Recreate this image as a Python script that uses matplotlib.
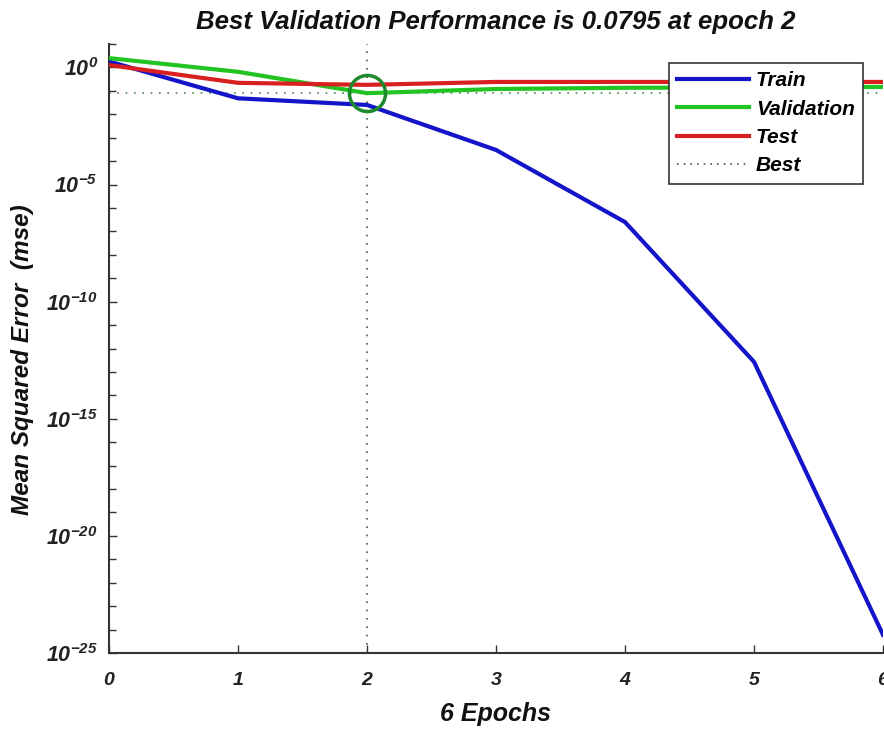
import math
import matplotlib
matplotlib.use('Agg')
import matplotlib.pyplot as plt
from matplotlib.ticker import FixedLocator, NullFormatter, FuncFormatter
from matplotlib.lines import Line2D

# ---- data ----
epochs = [0, 1, 2, 3, 4, 5, 6]
train = [1.8, 0.048, 0.025, 3.0e-4, 2.5e-7, 2.7e-13, 6.0e-25]
validation = [2.5, 0.65, 0.0795, 0.12, 0.135, 0.14, 0.147]
test = [1.26, 0.22, 0.18, 0.24, 0.24, 0.24, 0.24]
best_epoch = 2
best_perf = 0.0795
y_major = [1e-25, 1e-20, 1e-15, 1e-10, 1e-5, 1e0]
x_ticks = [0, 1, 2, 3, 4, 5, 6]

FONT = 'Liberation Sans'
plt.rcParams['font.family'] = [FONT, 'DejaVu Sans']
plt.rcParams['mathtext.fontset'] = 'custom'
plt.rcParams['mathtext.rm'] = 'Liberation Sans:bold:italic'
plt.rcParams['mathtext.it'] = 'Liberation Sans:bold:italic'
plt.rcParams['mathtext.bf'] = 'Liberation Sans:bold:italic'
plt.rcParams['mathtext.default'] = 'rm'

fig = plt.figure(figsize=(8.84, 7.29), dpi=100)
ax = fig.add_axes([109/884, 76/729, 774/884, 609/729])

c_train = '#1414c8'
c_val = '#22c422'
c_test = '#d82020'

ax.plot(epochs, train, color=c_train, lw=3, label='Train', solid_joinstyle='round', zorder=3)
ax.plot(epochs, validation, color=c_val, lw=3, label='Validation', solid_joinstyle='round', zorder=3)
ax.plot(epochs, test, color=c_test, lw=3, label='Test', solid_joinstyle='round', zorder=4)
ax.axhline(best_perf, color='#4a8a4a', lw=1.2, ls=(0, (1, 4)), zorder=2)
ax.axvline(best_epoch, color='#555555', lw=1.2, ls=(0, (1, 4)), zorder=2)
ax.plot([best_epoch], [best_perf], marker='o', ms=26, mfc='none', mec='#1f8a2a', mew=2.5, zorder=5)

ax.set_yscale('log')
ax.set_xlim(0, 6)
ax.set_ylim(1e-25, 1e1)
ax.yaxis.set_major_locator(FixedLocator(y_major))
ax.yaxis.set_minor_locator(FixedLocator([10.0**k for k in range(-25, 2)]))
ax.yaxis.set_minor_formatter(NullFormatter())

def fmt(v, pos):
    e = int(round(math.log10(v)))
    return r'$10^{%d}$' % e
ax.yaxis.set_major_formatter(FuncFormatter(fmt))
ax.set_xticks(x_ticks)
ax.set_xticklabels([str(t) for t in x_ticks])

for s in ['top', 'right']:
    ax.spines[s].set_visible(False)
for s in ['left', 'bottom']:
    ax.spines[s].set_color('#333333')
    ax.spines[s].set_linewidth(1.5)

ax.tick_params(which='both', direction='in', color='#333333', width=1)
ax.tick_params(which='major', length=6)
ax.tick_params(which='minor', length=5)
ax.tick_params(axis='y', labelsize=15.5, pad=8)
ax.tick_params(axis='x', labelsize=14, pad=14)
for lab in ax.get_xticklabels():
    lab.set_fontweight('bold'); lab.set_fontstyle('italic'); lab.set_color('#222222')
for lab in ax.get_yticklabels():
    lab.set_color('#222222')

tfont = dict(family=FONT, weight='bold', style='italic', color='#111111')
ax.set_title('Best Validation Performance is 0.0795 at epoch 2', fontsize=18.5, pad=11, **tfont)
ax.set_xlabel('6 Epochs', fontsize=18, labelpad=9, **tfont)
ax.set_ylabel('Mean Squared Error  (mse)', fontsize=17.5, **tfont)
ax.yaxis.set_label_coords(-(109 - 34) / 774, (653 - 360) / 609)

handles = [Line2D([], [], color=c_train, lw=3),
           Line2D([], [], color=c_val, lw=3),
           Line2D([], [], color=c_test, lw=3),
           Line2D([], [], color='#555555', lw=1.2, ls=(0, (1, 3)))]
leg = ax.legend(handles, ['Train', 'Validation', 'Test', 'Best'], loc='upper right',
                bbox_to_anchor=((863-109)/774, (653-63)/609), borderaxespad=0,
                fancybox=False, framealpha=1, edgecolor='#333333',
                prop=dict(family=FONT, weight='bold', style='italic', size=15),
                handlelength=3.45, handletextpad=0.34, labelspacing=0.45,
                borderpad=0.4)
leg.get_frame().set_linewidth(1.2)
leg.set_zorder(10)

fig.savefig('out.png', dpi=100, facecolor='white')
